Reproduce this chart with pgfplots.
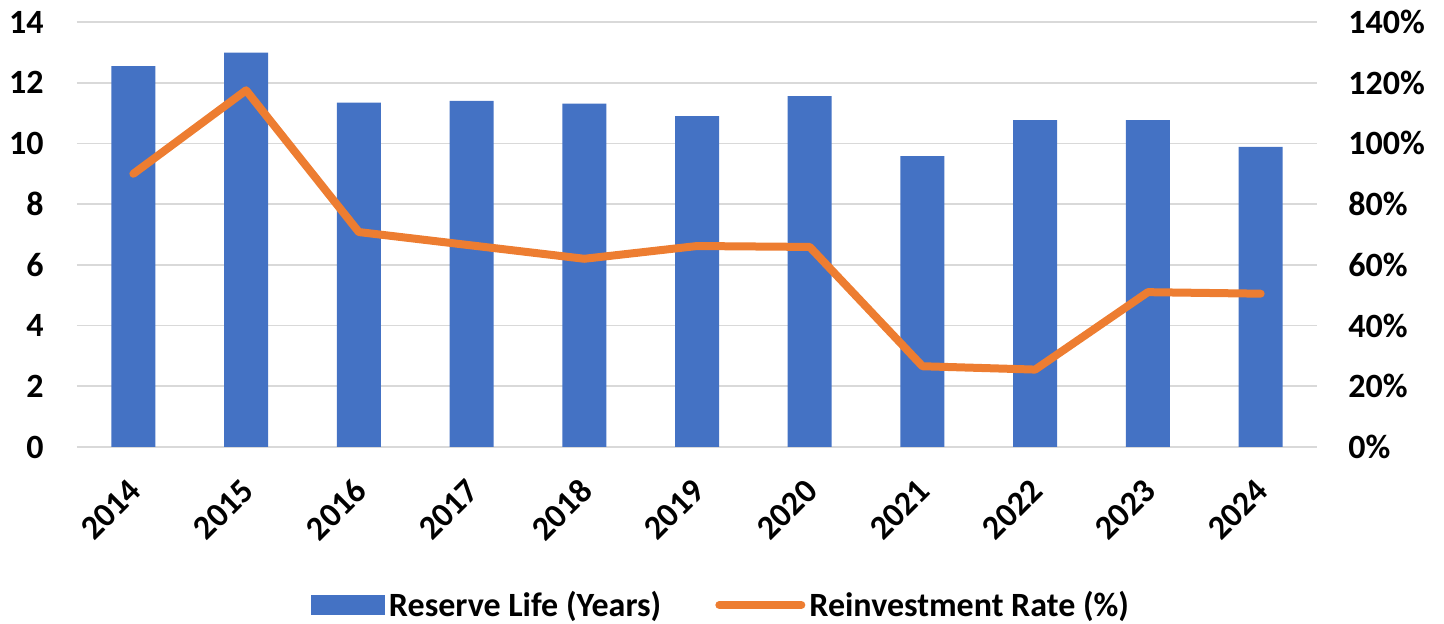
\documentclass[border=0pt]{standalone}
\usepackage{pgfplots}
\pgfplotsset{compat=1.18}
\usepackage{fontspec}
\setmainfont{Carlito}
\definecolor{barblue}{HTML}{4472C4}
\definecolor{lineorange}{HTML}{ED7D31}
\definecolor{gridgray}{HTML}{D9D9D9}
\begin{document}
\begin{tikzpicture}
\begin{axis}[
  at={(0,0)}, anchor=south west,
  scale only axis, width=620pt, height=212.5pt,
  xmin=-0.5, xmax=10.5, ymin=0, ymax=14,
  xtick={0,1,2,3,4,5,6,7,8,9,10},
  xticklabels={2014,2015,2016,2017,2018,2019,2020,2021,2022,2023,2024},
  ytick={0,2,4,6,8,10,12,14},
  ymajorgrids, grid style={gridgray, line width=0.9pt},
  axis line style={draw=none},
  major tick length=0pt,
  /pgf/number format/assume math mode=true,
  tick label style={font=\fontsize{17}{20}\selectfont\bfseries},
  yticklabel style={inner sep=0pt, xshift=-16.5pt},
  xticklabel style={xshift=1pt, yshift=-19pt, rotate=45, anchor=east, inner sep=0pt},
  legend style={draw=none, at={(0.5,0)}, anchor=center, xshift=12.5pt, yshift=-79pt,
    font=\fontsize{17}{20}\selectfont\bfseries,
    /tikz/every even column/.append style={column sep=25pt}},
  legend columns=2,
  legend cell align=left,
]
\addplot[ybar, bar width=22pt, fill=barblue, draw=none,
  legend image code/.code={\fill[barblue] (0pt,-5pt) rectangle (37pt,5pt);}]
  coordinates {(0,12.55) (1,12.99) (2,11.34) (3,11.40) (4,11.31) (5,10.90) (6,11.56) (7,9.58) (8,10.77) (9,10.77) (10,9.89)};
\addlegendentry{Reserve Life (Years)}
\addlegendimage{lineorange, line width=4pt, line cap=round,
  legend image code/.code={\draw[lineorange, line width=4pt, line cap=round] (2pt,0pt) -- (43pt,0pt);}}
\addlegendentry{Reinvestment Rate (\%)}
\end{axis}
\begin{axis}[
  at={(0,0)}, anchor=south west,
  scale only axis, width=620pt, height=212.5pt,
  xmin=-0.5, xmax=10.5, ymin=0, ymax=140,
  axis y line*=right, axis x line=none,
  ytick={0,20,40,60,80,100,120,140},
  yticklabel={\pgfmathprintnumber{\tick}\%},
  axis line style={draw=none},
  major tick length=0pt,
  /pgf/number format/assume math mode=true,
  tick label style={font=\fontsize{17}{20}\selectfont\bfseries},
  yticklabel style={inner sep=0pt, xshift=15.5pt, anchor=west},
]
\addplot[lineorange, line width=4pt, line join=round, line cap=round]
  coordinates {(0,90) (1,117.5) (2,70.8) (3,66.4) (4,62) (5,66.2) (6,65.9) (7,26.6) (8,25.5) (9,51) (10,50.5)};
\end{axis}
\pgfresetboundingbox
\path (-38.5pt,-88.5pt) rectangle (683.5pt,223.5pt);
\end{tikzpicture}
\end{document}
